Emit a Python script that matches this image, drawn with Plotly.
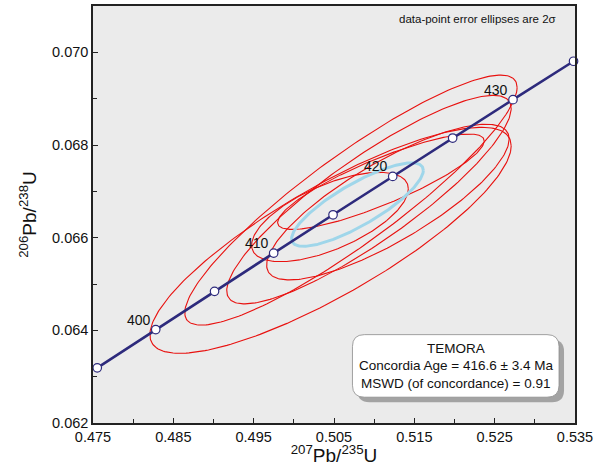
import numpy as np
import plotly.graph_objects as go

# Concordia tick points (ages in Ma) and ratios
conc_age = [395, 400, 405, 410, 415, 420, 425, 430, 435]
conc_207_235 = [0.47553, 0.48281, 0.49013, 0.49749, 0.50488, 0.51231, 0.51977, 0.52728, 0.53482]
conc_206_238 = [0.063191, 0.064016, 0.064841, 0.065667, 0.066494, 0.067322, 0.068150, 0.068979, 0.069808]
label_ages = [400, 410, 420, 430]

# Data-point error ellipses (2 sigma): centres, half-widths, correlation
ell_x = [0.50711, 0.50457, 0.50935, 0.51171, 0.51084, 0.50450]
ell_y = [0.066811, 0.065943, 0.066821, 0.066768, 0.067207, 0.066446]
ell_ex = [0.020683, 0.022485, 0.017702, 0.015093, 0.012857, 0.009752]
ell_ey = [0.002698, 0.002439, 0.002250, 0.001680, 0.001029, 0.000964]
ell_rho = [0.901, 0.835, 0.874, 0.81, 0.855, 0.63]

# Concordia age ellipse
age_x, age_y, age_ex, age_ey, age_rho = 0.50792, 0.066714, 0.008199, 0.000900, 0.82

def ellipse(cx, cy, ex, ey, rho, n=240):
    t = np.linspace(0, 2 * np.pi, n)
    x = cx + ex * np.cos(t)
    y = cy + ey * (rho * np.cos(t) + np.sqrt(1 - rho ** 2) * np.sin(t))
    return x, y

FONT = "Liberation Sans, Arial, sans-serif"
fig = go.Figure()
for i in range(len(ell_x)):
    x, y = ellipse(ell_x[i], ell_y[i], ell_ex[i], ell_ey[i], ell_rho[i])
    fig.add_trace(go.Scatter(x=x, y=y, mode="lines", line=dict(color="#e8110f", width=1.1),
                             hoverinfo="skip", showlegend=False))

x, y = ellipse(age_x, age_y, age_ex, age_ey, age_rho)
fig.add_trace(go.Scatter(x=x, y=y, mode="lines", line=dict(color="#9fd6ea", width=3),
                         hoverinfo="skip", showlegend=False))

fig.add_trace(go.Scatter(x=conc_207_235, y=conc_206_238, mode="lines+markers",
                         line=dict(color="#2d2a7c", width=2.6),
                         marker=dict(size=8.5, color="white", line=dict(color="#2d2a7c", width=1.2)),
                         showlegend=False, cliponaxis=False))

for a in label_ages:
    i = conc_age.index(a)
    fig.add_annotation(x=conc_207_235[i], y=conc_206_238[i], text=str(a), showarrow=False,
                       xanchor="right", yanchor="bottom", xshift=-3, yshift=0,
                       font=dict(size=14, color="#111111", family=FONT))

fig.add_annotation(xref="paper", yref="paper", x=0.965, y=0.968, text="data-point error ellipses are 2σ",
                   showarrow=False, xanchor="right", yanchor="middle",
                   font=dict(size=11.5, color="#111111", family=FONT))

def rrect(x0, y0, x1, y1, rx, ry):
    return (f"M{x0+rx},{y0} L{x1-rx},{y0} Q{x1},{y0} {x1},{y0+ry} L{x1},{y1-ry} "
            f"Q{x1},{y1} {x1-rx},{y1} L{x0+rx},{y1} Q{x0},{y1} {x0},{y1-ry} "
            f"L{x0},{y0+ry} Q{x0},{y0} {x0+rx},{y0} Z")

W, H = 483.0, 420.0
bx0, bx1 = (353 - 93) / W, (560 - 93) / W
by0, by1 = (424 - 398) / H, (424 - 335) / H
rx, ry = 12 / W, 12 / H
sx, sy = 5 / W, 5 / H
fig.add_shape(type="path", xref="paper", yref="paper",
              path=rrect(bx0 + sx, by0 - sy, bx1 + sx, by1 - sy, rx, ry),
              fillcolor="#a3a3a3", line=dict(width=0), layer="above")
fig.add_shape(type="path", xref="paper", yref="paper",
              path=rrect(bx0, by0, bx1, by1, rx, ry),
              fillcolor="white", line=dict(color="#8a8a8a", width=0.8), layer="above")
box_lines = ["TEMORA", "Concordia Age = 416.6 ± 3.4 Ma", "MSWD (of concordance) = 0.91"]
for k, s in enumerate(box_lines):
    fig.add_annotation(xref="paper", yref="paper", x=(bx0 + bx1) / 2, y=(424 - (349 + 17.5 * k)) / H,
                       text=s, showarrow=False, xanchor="center", yanchor="middle",
                       font=dict(size=13.5, color="#111111", family=FONT))

axis_common = dict(showgrid=False, zeroline=False, mirror=True, showline=True,
                   linecolor="#222222", linewidth=1.5, ticks="inside", ticklen=5,
                   tickcolor="#222222", tickwidth=1.2,
                   tickfont=dict(size=14.5, color="#111111", family=FONT))
fig.update_xaxes(range=[0.475, 0.535], tick0=0.475, dtick=0.01, tickformat=".3f",
                 minor=dict(dtick=0.005, ticks="inside", ticklen=4, tickcolor="#222222"),
                 title=dict(text="<sup>207</sup>Pb/<sup>235</sup>U", standoff=4,
                            font=dict(size=19, color="#111111", family=FONT)),
                 **axis_common)
fig.update_yaxes(range=[0.062, 0.071], tick0=0.062, dtick=0.002, tickformat=".3f",
                 minor=dict(dtick=0.001, ticks="inside", ticklen=4, tickcolor="#222222"),
                 title=dict(text="<sup>206</sup>Pb/<sup>238</sup>U", standoff=10,
                            font=dict(size=19, color="#111111", family=FONT)),
                 **axis_common)

fig.update_layout(width=597, height=466, margin=dict(l=93, r=21, t=4, b=42),
                  paper_bgcolor="white", plot_bgcolor="#ebebeb", showlegend=False)
fig.write_html("out.html", config={"displayModeBar": False},
               post_script="document.body.style.margin='0px';")
